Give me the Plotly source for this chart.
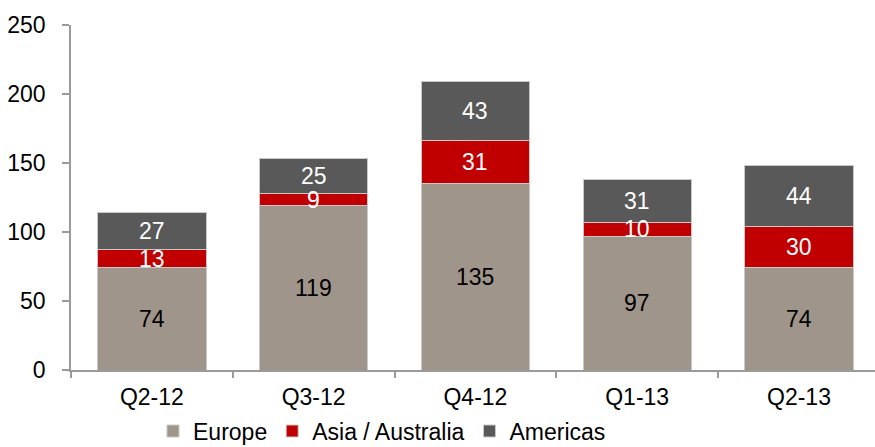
import plotly.graph_objects as go

categories = ["Q2-12", "Q3-12", "Q4-12", "Q1-13", "Q2-13"]
europe = [74, 119, 135, 97, 74]
asia = [13, 9, 31, 10, 30]
americas = [27, 25, 43, 31, 44]
y_ticks = [0, 50, 100, 150, 200, 250]

FONT = "Liberation Sans, Arial, sans-serif"
FS = 23

series = [
    ("Europe", europe, "#A0958A", "#000000"),
    ("Asia / Australia", asia, "#C00000", "#FFFFFF"),
    ("Americas", americas, "#595959", "#FFFFFF"),
]

fig = go.Figure()
base = [0] * len(categories)
for name, vals, color, tcolor in series:
    fig.add_trace(go.Bar(
        x=categories, y=vals, name=name,
        marker=dict(color=color, line=dict(color="#C8C8C8", width=1)),
        hoverinfo="skip",
    ))
    # value labels drawn above all bars, centred in each segment
    for cat, b, v in zip(categories, base, vals):
        fig.add_annotation(
            x=cat, y=b + v / 2, xref="x", yref="y", text=str(v),
            showarrow=False, font=dict(family=FONT, size=FS, color=tcolor),
            xanchor="center", yanchor="middle",
        )
    base = [b + v for b, v in zip(base, vals)]

fig.update_layout(
    barmode="stack",
    bargap=0.33,
    width=875, height=447,
    margin=dict(l=71, r=0, t=25, b=77, autoexpand=False),
    plot_bgcolor="white", paper_bgcolor="white",
    font=dict(family=FONT, size=FS, color="#000000"),
    showlegend=True,
    legend=dict(
        orientation="h", x=0.102, xanchor="left", y=-0.177, yanchor="middle",
        font=dict(family=FONT, size=FS, color="#000000"),
        itemwidth=30, traceorder="normal",
        bgcolor="rgba(0,0,0,0)",
    ),
    xaxis=dict(
        range=[-0.5, 4.47],
        showline=True, linecolor="#9A9A9A", linewidth=1.5,
        ticks="outside", tickson="boundaries", ticklen=6,
        tickcolor="#9A9A9A", tickwidth=1.5,
        showgrid=False, zeroline=False,
        tickfont=dict(family=FONT, size=FS, color="#000000"),
        ticklabelstandoff=6,
    ),
    yaxis=dict(
        range=[0, 250], tickvals=y_ticks,
        showline=True, linecolor="#9A9A9A", linewidth=1.5,
        ticks="outside", ticklen=7, tickcolor="#9A9A9A", tickwidth=1.5,
        showgrid=False, zeroline=False,
        tickfont=dict(family=FONT, size=FS, color="#000000"),
        ticklabelstandoff=12,
    ),
)

fig.write_html("out.html")
